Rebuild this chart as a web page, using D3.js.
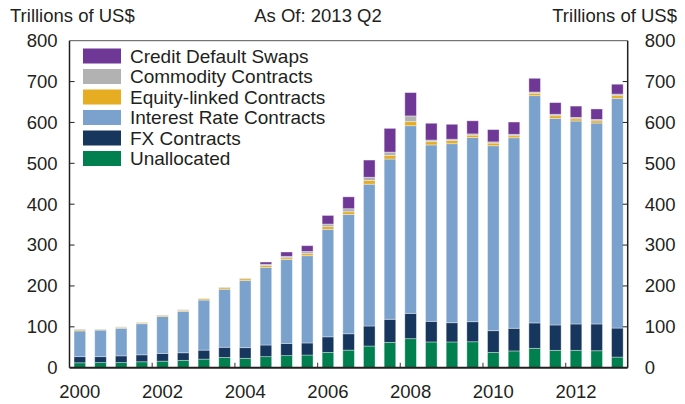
<!DOCTYPE html>
<html><head><meta charset="utf-8">
<script src="https://cdn.jsdelivr.net/npm/d3@7"></script>
<style>
html,body{margin:0;padding:0;background:#fff;}
text{font-family:"Liberation Sans",Arial,Helvetica,sans-serif;fill:#231f20;}
</style></head>
<body>
<svg id="chart" width="685" height="404"></svg>
<script>
const periods = ["2000H1","2000H2","2001H1","2001H2","2002H1","2002H2","2003H1","2003H2","2004H1","2004H2","2005H1","2005H2","2006H1","2006H2","2007H1","2007H2","2008H1","2008H2","2009H1","2009H2","2010H1","2010H2","2011H1","2011H2","2012H1","2012H2","2013H1"];
const unallocated = [12,12.5,12.5,14.5,16,18,21,25,23,27,29.5,31,37.5,43,53,62,71,63,63,63.5,37.5,41,47.5,42.5,42.5,41.5,26];
const fx = [15,14.5,16.5,17,19,18.5,22,25,26,28.5,30,29.5,38,40,49,56.5,62,50.5,47,49,53,55.5,62,62,64.5,65.5,71];
const interestRate = [63,65,67.5,76,90,101.5,122.5,142,164,190,205.5,213.5,263,292,347,392,459,431.5,438,450.5,452.5,466,556,505.5,496.5,491.5,562];
const equity = [2.5,1.5,2,2,2.5,2.5,3,3.5,4.5,4.5,4,5,6.5,6.5,9,9,10,8,7.5,6,6.5,5,6,6.5,5.5,5.5,6.5];
const commodity = [2,1,1.5,1.5,1.5,1.5,1,1.5,1.5,3,3.5,5.5,6.5,7.5,8,8,14,4,3.5,3,3,3.5,3,3.5,3.5,3.5,4];
const cds = [0,0,0,0,0,0,0,0,0,5.5,10.5,14,21,29,42,58,57,41,36.5,32,30,30,33.5,28.5,27.5,25.5,24];
const seriesNames = ["Unallocated","FX Contracts","Interest Rate Contracts","Equity-linked Contracts","Commodity Contracts","Credit Default Swaps"];
const seriesColors = ["#00804f","#17365d","#7aa2cd","#e6ad23","#b2b2b2","#703896"];
const yTicks = [0,100,200,300,400,500,600,700,800];
const xTickYears = [2002,2004,2006,2008,2010,2012];
const xLabels = ["2000","2002","2004","2006","2008","2010","2012"];
const axisTitle = "Trillions of US$";
const chartTitle = "As Of: 2013 Q2";

const keys = ["u","fx","ir","eq","com","cds"];
const table = periods.map((p,i)=>({period:p,u:unallocated[i],fx:fx[i],ir:interestRate[i],eq:equity[i],com:commodity[i],cds:cds[i]}));
const stacked = d3.stack().keys(keys)(table);

const L = 69.5, R = 627.7, T = 40.7, B = 367.7;
const svg = d3.select("#chart");
const x = d3.scaleBand().domain(periods).range([L,R]).paddingInner(0.44).paddingOuter(0.22);
const xt = d3.scaleLinear().domain([2000,2013.5]).range([L,R]);
const y = d3.scaleLinear().domain([0,800]).range([B,T]);
const color = d3.scaleOrdinal().domain(keys).range(seriesColors);

// bars
svg.append("g").selectAll("g").data(stacked).join("g")
  .attr("fill",d=>color(d.key))
  .selectAll("rect").data(d=>d.filter(e=>e[1]-e[0]>0)).join("rect")
  .attr("x",d=>x(d.data.period))
  .attr("width",x.bandwidth())
  .attr("y",d=>y(d[1]))
  .attr("height",d=>y(d[0])-y(d[1]))
  .attr("stroke","#fff").attr("stroke-opacity",0.45).attr("stroke-width",0.8);

// axes
const fmt = d3.format("d");
const left = svg.append("g").attr("transform",`translate(${L},0)`)
  .call(d3.axisLeft(y).tickValues(yTicks).tickSize(0).tickPadding(12).tickFormat(fmt));
const right = svg.append("g").attr("transform",`translate(${R},0)`)
  .call(d3.axisRight(y).tickValues(yTicks).tickSize(0).tickPadding(17).tickFormat(fmt));
[left,right].forEach(g=>{
  g.select(".domain").remove();
  g.selectAll("text").style("font-size","18.5px").attr("fill","#231f20");
});
// inner y ticks
svg.append("g").selectAll("line").data(yTicks.slice(1,-1)).join("line")
  .attr("x1",L).attr("x2",L+5).attr("y1",d=>y(d)).attr("y2",d=>y(d)).attr("stroke","#231f20").attr("stroke-width",1);
svg.append("g").selectAll("line").data(yTicks.slice(1,-1)).join("line")
  .attr("x1",R-5).attr("x2",R).attr("y1",d=>y(d)).attr("y2",d=>y(d)).attr("stroke","#231f20").attr("stroke-width",1);

// x ticks (inward) and labels
svg.append("g").selectAll("line").data(xTickYears).join("line")
  .attr("x1",d=>xt(d)).attr("x2",d=>xt(d)).attr("y1",B).attr("y2",B-5)
  .attr("stroke","#555").attr("stroke-width",1.2);
svg.append("g").selectAll("text").data(xLabels).join("text")
  .attr("x",d=>x(d+"H1")+x.bandwidth()/2).attr("y",398)
  .attr("text-anchor","middle").style("font-size","18.5px").text(d=>d);

// frame
svg.append("line").attr("x1",L).attr("x2",R).attr("y1",T).attr("y2",T).attr("stroke","#555").attr("stroke-width",1);
svg.append("line").attr("x1",L).attr("x2",L).attr("y1",T).attr("y2",B).attr("stroke","#231f20").attr("stroke-width",1.5);
svg.append("line").attr("x1",R).attr("x2",R).attr("y1",T).attr("y2",B).attr("stroke","#231f20").attr("stroke-width",1.5);
svg.append("line").attr("x1",L).attr("x2",R).attr("y1",B).attr("y2",B).attr("stroke","#231f20").attr("stroke-width",2);

// titles
svg.append("text").attr("x",10).attr("y",22).style("font-size","18.5px").text(axisTitle);
svg.append("text").attr("x",677).attr("y",22).attr("text-anchor","end").style("font-size","18.5px").text(axisTitle);
svg.append("text").attr("x",318).attr("y",22).attr("text-anchor","middle").style("font-size","18.5px").text(chartTitle);

// legend (top to bottom: reverse stack order)
const legendOrder = d3.range(seriesNames.length).reverse();
const lg = svg.append("g").selectAll("g").data(legendOrder).join("g")
  .attr("transform",(d,i)=>`translate(83,${48.5+i*20.5})`);
lg.append("rect").attr("width",38).attr("height",15).attr("fill",d=>seriesColors[d]);
lg.append("text").attr("x",47).attr("y",14.3).style("font-size","19px").text(d=>seriesNames[d]);
</script>
</body></html>
